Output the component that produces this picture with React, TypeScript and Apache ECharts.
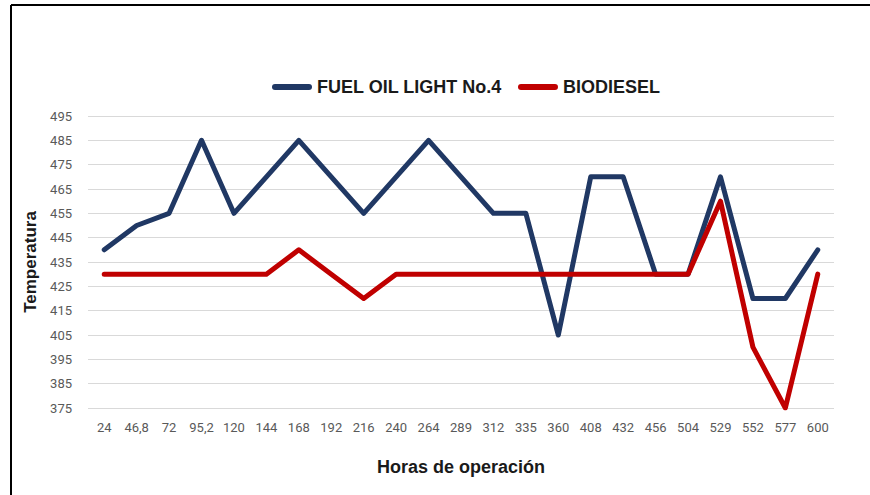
import React, { useEffect, useRef } from "react";
import * as echarts from "echarts";

const categories = ["24", "46,8", "72", "95,2", "120", "144", "168", "192", "216", "240", "264", "289", "312", "335", "360", "408", "432", "456", "504", "529", "552", "577", "600"];
const fuelOil = [440, 450, 455, 485, 455, 470, 485, 470, 455, 470, 485, 470, 455, 455, 405, 470, 470, 430, 430, 470, 420, 420, 440];
const biodiesel = [430, 430, 430, 430, 430, 430, 440, 430, 420, 430, 430, 430, 430, 430, 430, 430, 430, 430, 430, 460, 400, 375, 430];
const seriesNames = ["FUEL OIL LIGHT No.4", "BIODIESEL"];
const yMin = 375;
const yMax = 495;
const yStep = 10;

const capsule = "path://M3,0 L37,0 A3,3 0 0 1 37,6 L3,6 A3,3 0 0 1 3,0 Z";

export default function App() {
  const ref = useRef<HTMLDivElement>(null);
  useEffect(() => {
    if (!ref.current) return;
    const chart = echarts.init(ref.current, null, { renderer: "svg" });
    chart.setOption({
      animation: false,
      backgroundColor: "#ffffff",
      graphic: [
        { type: "line", shape: { x1: 11, y1: 5, x2: 870, y2: 5 }, style: { stroke: "#000000", lineWidth: 2 } },
        { type: "line", shape: { x1: 11, y1: 5, x2: 11, y2: 495 }, style: { stroke: "#000000", lineWidth: 2 } },
      ],
      legend: {
        left: 272,
        top: 78,
        padding: 0,
        itemWidth: 40,
        itemHeight: 6,
        itemGap: 16,
        icon: capsule,
        textStyle: { fontFamily: "Liberation Sans, Arial, sans-serif", fontWeight: "bold", fontSize: 18, color: "#1a1a1a" },
        data: seriesNames,
      },
      grid: { left: 88, right: 36, top: 116, bottom: 87 },
      xAxis: {
        type: "category",
        data: categories,
        boundaryGap: true,
        axisLine: { show: false },
        axisTick: { show: false },
        axisLabel: { margin: 13, fontFamily: "Roboto, sans-serif", fontSize: 13, color: "#595959", interval: 0 },
        name: "Horas de operación",
        nameLocation: "middle",
        nameGap: 50,
        nameTextStyle: { fontFamily: "Liberation Sans, Arial, sans-serif", fontWeight: "bold", fontSize: 18, color: "#1a1a1a" },
      },
      yAxis: {
        type: "value",
        min: yMin,
        max: yMax,
        interval: yStep,
        axisLine: { show: false },
        axisTick: { show: false },
        axisLabel: { margin: 16, fontFamily: "Roboto, sans-serif", fontSize: 13, color: "#595959" },
        splitLine: { lineStyle: { color: "#d9d9d9", width: 1 } },
        name: "Temperatura",
        nameLocation: "middle",
        nameGap: 44,
        nameRotate: 90,
        nameTextStyle: { fontFamily: "Liberation Sans, Arial, sans-serif", fontWeight: "bold", fontSize: 17, color: "#1a1a1a" },
      },
      series: [
        {
          name: seriesNames[0],
          type: "line",
          data: fuelOil,
          showSymbol: false,
          symbol: "none",
          color: "#203864",
          lineStyle: { width: 5, color: "#203864", cap: "round", join: "round" },
        },
        {
          name: seriesNames[1],
          type: "line",
          data: biodiesel,
          showSymbol: false,
          symbol: "none",
          color: "#c00000",
          lineStyle: { width: 5, color: "#c00000", cap: "round", join: "round" },
        },
      ],
    });
    return () => chart.dispose();
  }, []);
  return <div ref={ref} style={{ position: "fixed", left: 0, top: 0, width: 870, height: 495 }} />;
}
